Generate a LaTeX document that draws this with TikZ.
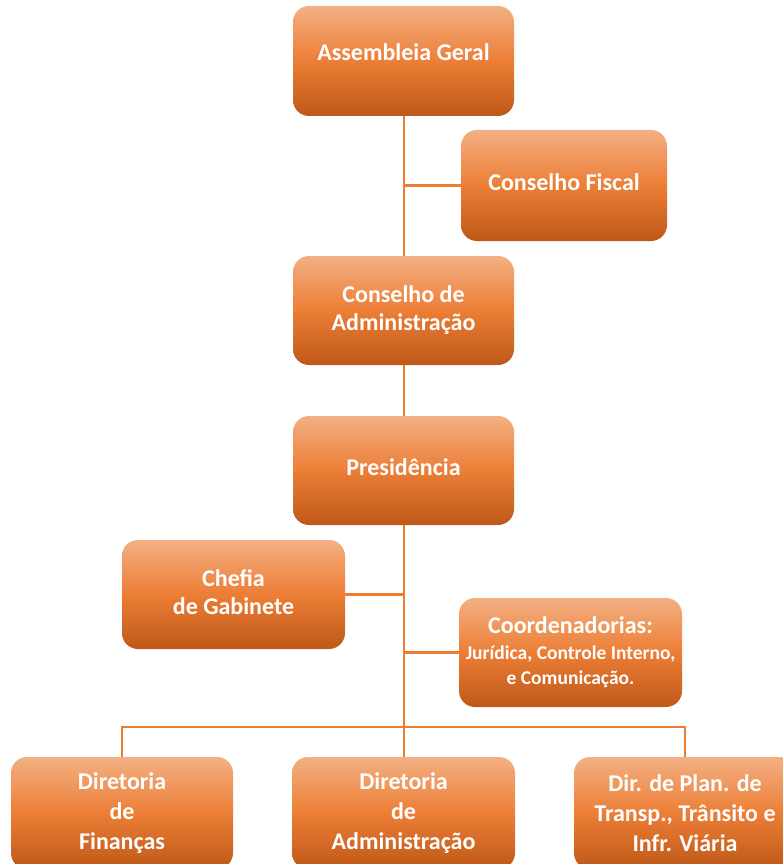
\documentclass[tikz,border=0pt]{standalone}
\usepackage{fontspec}
\setmainfont{Carlito}
\begin{document}
\begin{tikzpicture}[x=1pt,y=-1pt,
  orgbox/.style={rounded corners=16pt, top color=boxtop, bottom color=boxbot, middle color=boxmid,
    draw=none, text=white, font=\bfseries\fontsize{24}{28}\selectfont, align=center,
    inner sep=0pt},
  lowbox/.style={orgbox, font=\bfseries\fontsize{24}{30}\selectfont},
  link/.style={draw=linec, line width=2.4pt}]
\definecolor{boxtop}{HTML}{F3B083}
\definecolor{boxmid}{HTML}{EC7E36}
\definecolor{boxbot}{HTML}{BE5818}
\definecolor{linec}{HTML}{ED7D31}
\useasboundingbox (0,0) rectangle (783,864);
\clip (0,0) rectangle (783,864);
% boxes
\node[orgbox, minimum width=221pt, minimum height=110pt] (ag) at (403.5,61) {\raisebox{17pt}{Assembleia Geral}};
\node[orgbox, minimum width=206pt, minimum height=111pt] (cf) at (564,185.5) {\raisebox{6pt}{Conselho Fiscal}};
\node[orgbox, minimum width=221pt, minimum height=109pt] (ca) at (403.5,310.5) {Conselho de\\Administração};
\node[orgbox, minimum width=221pt, minimum height=109pt] (pr) at (403.5,470.5) {\raisebox{6pt}{Presidência}};
\node[orgbox, minimum width=223pt, minimum height=109pt] (cg) at (233.5,594.5) {\raisebox{4pt}{Chefia}\\\raisebox{4pt}{de Gabinete}};
\node[orgbox, minimum width=223pt, minimum height=109pt] (co) at (570.5,652.5) {Coordenadorias:\\[-2pt]{\fontsize{19.5}{24}\selectfont Jurídica, Controle Interno,}\\[-3pt]{\fontsize{19.5}{24}\selectfont e Comunicação.}};
\node[lowbox, minimum width=222pt, minimum height=112pt] (df) at (122,813) {Diretoria\\de\\Finanças};
\node[lowbox, minimum width=223pt, minimum height=112pt] (da) at (403.5,813) {Diretoria\\de\\Administração};
\node[lowbox, minimum width=222pt, minimum height=112pt] (dp) at (685,813) {Dir. de Plan. de\\Transp., Trânsito e\\Infr. Viária};
% trunk
\coordinate (jf) at (404,185.5);
\coordinate (jc) at (404,594.5);
\coordinate (jo) at (404,652.5);
\coordinate (jl) at (122,727);
\coordinate (jr) at (685,727);
\draw[link] (ag.south -| jf) -- (ca.north -| jf);
\draw[link] (jf) -- (cf.west);
\draw[link] (ca.south -| jf) -- (pr.north -| jf);
\draw[link] (pr.south -| jf) -- (da.north -| jf);
\draw[link] (cg.east) -- (jc);
\draw[link] (jo) -- (co.west);
\draw[link] (df.north) -- (jl) -- (jr) -- (dp.north);
\end{tikzpicture}
\end{document}
